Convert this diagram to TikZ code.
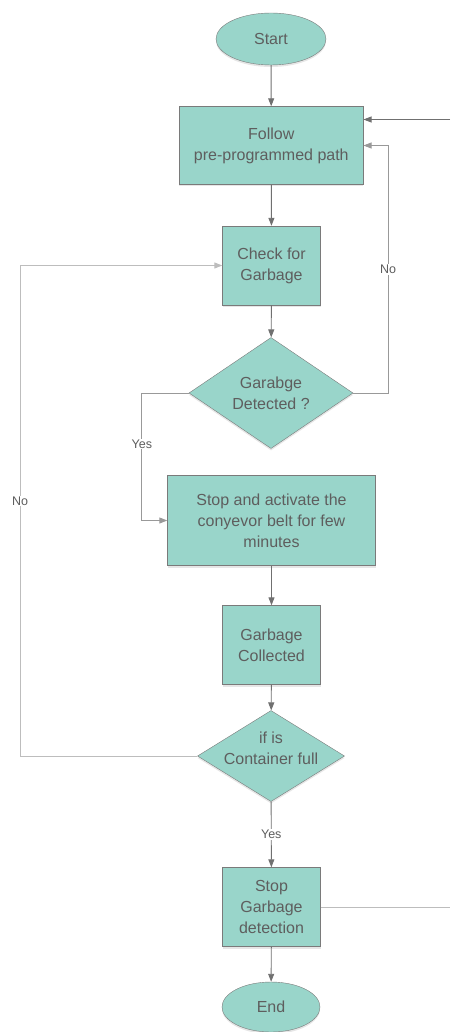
\documentclass[tikz,border=0pt]{standalone}
\usepackage{fontspec}
\setmainfont{Liberation Sans}
\usetikzlibrary{shapes.geometric,arrows.meta,shadows}
\definecolor{boxfill}{HTML}{99D5CA}
\definecolor{boxline}{HTML}{7A7A7A}
\definecolor{txt}{HTML}{5E5E5E}
\definecolor{wire}{HTML}{707070}
\definecolor{lightwire}{HTML}{BDBDBD}

\tikzset{blk/.style={ draw=boxline, fill=boxfill, rectangle, text=txt, align=center, inner sep=0pt,
  font=\fontsize{16}{21}\selectfont, drop shadow={opacity=0.2, shadow xshift=0pt, shadow yshift=-2pt}}}
\tikzset{term/.style={blk, ellipse}}
\tikzset{dec/.style={blk, diamond}}
\tikzset{arr/.style={draw=wire, line width=0.9pt, -{Triangle[length=8pt,width=6pt]}}}

\begin{document}
\begin{tikzpicture}[x=1pt, y=-1pt]
\tikzstyle{lbl}=[fill=white, text=txt, inner sep=1pt, font=\fontsize{12.5}{14}\selectfont]
\tikzstyle{dectext}=[text=txt, align=center, font=\fontsize{16}{21}\selectfont]
\useasboundingbox (0,0) rectangle (450,1032);
\node[term, minimum width=110pt, minimum height=52pt] (start) at (271,39) {Start};
\node[blk, minimum width=184pt, minimum height=78pt] (follow) at (271.3,145.5) {Follow\\pre-programmed path};
\node[blk, minimum width=98pt, minimum height=79pt] (check) at (271.5,265.5) {Check for\\Garbage};
\node[dec, minimum width=164pt, minimum height=111pt,
      label={[dectext]center:Garabge\\Detected ?}] (detect) at (271,393) {};
\node[blk, minimum width=208pt, minimum height=90pt] (belt) at (271.5,520.5) {Stop and activate the\\conyevor belt for few\\minutes};
\node[blk, minimum width=98pt, minimum height=79pt] (collect) at (271.5,645) {Garbage\\Collected};
\node[dec, minimum width=147pt, minimum height=91pt,
      label={[dectext, yshift=8pt]center:if is\\Container full}] (full) at (271,756) {};
\node[blk, minimum width=98pt, minimum height=79pt] (stopdet) at (271.5,907) {Stop\\Garbage\\detection};
\node[term, minimum width=98pt, minimum height=50pt] (stopend) at (271,1007) {End};
\coordinate (inR) at (450,119.5);
\coordinate (outR) at (450,907);

% main flow
\draw[arr] (start) -- (follow);
\draw[arr] (follow) -- (check);
\draw[arr] (check) -- (detect);
\draw[arr] (belt) -- (collect);
\draw[arr] (collect) -- (full);
\draw[arr] (full) -- node[lbl]{Yes} (stopdet);
\draw[arr] (stopdet) -- (stopend);
% side branches
\draw[arr] (inR) -- (inR -| follow.east);
\draw[arr, draw=gray!80] (detect.east) -- ++(35,0) |- node[lbl, pos=0.25]{No} (follow.east);
\draw[arr, draw=gray!80] (detect.west) -- ++(-47,0) |- node[lbl, pos=0.2]{Yes} (belt.west);
\draw[arr, draw=lightwire] (full.west) -- (20,756) |- node[lbl, pos=0.26]{No} (check.west);
\draw[draw=lightwire, line width=0.9pt] (stopdet.east) -- (outR);
\end{tikzpicture}
\end{document}
